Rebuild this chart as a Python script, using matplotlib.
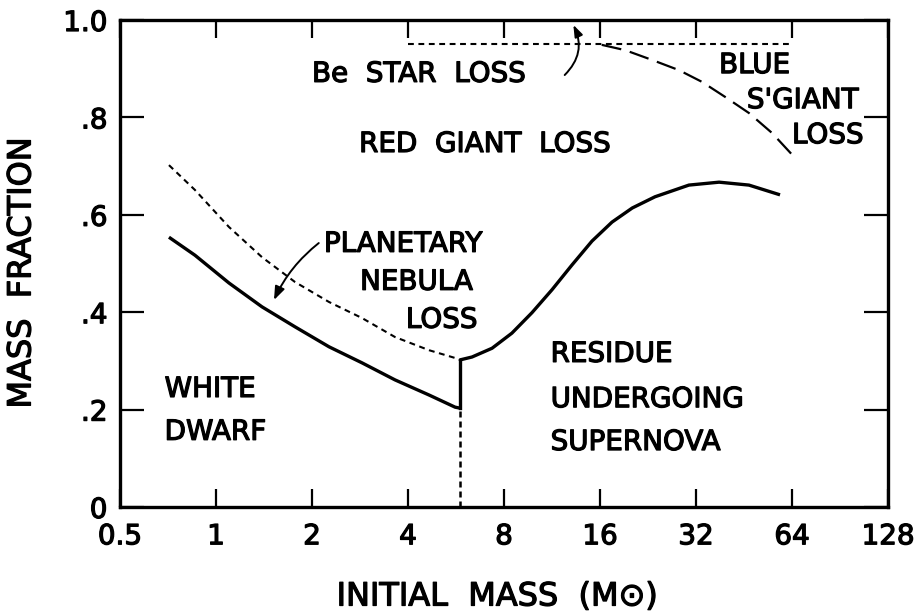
import numpy as np
import matplotlib
matplotlib.use("Agg")
import matplotlib.pyplot as plt
import matplotlib.patheffects as pe
from matplotlib.patches import FancyArrowPatch

plt.rcParams['font.family'] = ['DejaVu Sans']

# white dwarf / planetary nebula boundary (solid, lower)
wd_x = [0.712, 0.859, 1.098, 1.394, 1.769, 2.261, 2.870, 3.642, 4.655, 5.62, 5.82]
wd_y = [0.554, 0.517, 0.460, 0.411, 0.370, 0.329, 0.296, 0.261, 0.230, 0.205, 0.203]

# planetary nebula / red giant boundary (dotted)
pn_x = [0.712, 0.859, 1.098, 1.394, 1.769, 2.261, 2.870, 3.642, 4.655, 5.62, 5.82]
pn_y = [0.702, 0.651, 0.575, 0.513, 0.462, 0.421, 0.388, 0.349, 0.322, 0.306, 0.302]

# supernova residue boundary (solid, upper right)
sn_x = [5.82, 6.35, 7.34, 8.47, 9.79, 11.31, 13.07, 15.1, 17.45, 20.2, 23.8,
        30.4, 37.8, 46.9, 58.7]
sn_y = [0.302, 0.308, 0.326, 0.357, 0.399, 0.446, 0.497, 0.546, 0.585, 0.614,
        0.637, 0.661, 0.667, 0.661, 0.641]

# blue supergiant loss boundary (long dash)
bs_x = [16.2, 19.2, 23.3, 28.3, 33.4, 39.5, 46.9, 55.4, 65.4]
bs_y = [0.949, 0.938, 0.918, 0.897, 0.873, 0.842, 0.809, 0.768, 0.717]

# Be star loss line and white dwarf limit
be_x = [4, 64]
be_y = [0.95, 0.95]
limit_mass = 5.82
limit_y = [0.0, 0.203, 0.302]

x_ticks = [0.5, 1, 2, 4, 8, 16, 32, 64, 128]
x_labels = ['0.5', '1', '2', '4', '8', '16', '32', '64', '128']
y_ticks = [0, 0.2, 0.4, 0.6, 0.8, 1.0]
y_labels = ['0', '.2', '.4', '.6', '.8', '1.0']

fig = plt.figure(figsize=(9.18, 6.13), dpi=100)
ax = fig.add_axes([120 / 918, 106 / 613, 768 / 918, 487 / 613])

ax.plot(wd_x, wd_y, color='black', lw=2.4, solid_capstyle='butt')
ax.plot(sn_x, sn_y, color='black', lw=2.4, solid_capstyle='butt')
ax.plot([limit_mass, limit_mass], limit_y[1:], color='black', lw=2.4)
ax.plot([limit_mass, limit_mass], limit_y[:2], color='black', lw=1.8,
        dashes=(2.4, 1.6))
ax.plot(pn_x, pn_y, color='black', lw=1.5, dashes=(2.8, 2.2))
ax.plot(be_x, be_y, color='black', lw=1.5, dashes=(2.8, 2.2))
ax.plot(bs_x, bs_y, color='black', lw=1.6, dashes=(9, 4))

ax.set_xscale('log', base=2)
ax.set_xlim(0.5, 128)
ax.set_ylim(0, 1.0)
ax.set_xticks(x_ticks)
ax.set_xticklabels(x_labels)
ax.set_yticks(y_ticks)
ax.set_yticklabels(y_labels)
ax.minorticks_off()

for s in ax.spines.values():
    s.set_linewidth(2.4)

ax.tick_params(axis='x', which='major', direction='in', top=True, length=13,
               width=1.6, pad=11, labelsize=20)
ax.tick_params(axis='y', which='major', direction='in', right=True, length=17,
               width=1.6, pad=9, labelsize=20)

thick = [pe.withStroke(linewidth=0.9, foreground='black')]
for lab in ax.get_xticklabels() + ax.get_yticklabels():
    lab.set_path_effects(thick)

labels = [
    ('Be  STAR  LOSS', 2.0, 0.873),
    ('RED  GIANT  LOSS', 2.81, 0.729),
    ('BLUE', 37.8, 0.891),
    ("S'GIANT", 46.2, 0.819),
    ('LOSS', 64, 0.747),
    ('PLANETARY', 2.18, 0.524),
    ('NEBULA', 2.83, 0.446),
    ('LOSS', 3.94, 0.368),
    ('WHITE', 0.69, 0.226),
    ('DWARF', 0.69, 0.138),
    ('RESIDUE', 11.2, 0.298),
    ('UNDERGOING', 11.2, 0.205),
    ('SUPERNOVA', 11.2, 0.117),
]
for txt, lx, ly in labels:
    ax.text(lx, ly, txt, fontsize=20, ha='left', va='baseline',
            path_effects=thick)

# arrows
ax.add_patch(FancyArrowPatch((2.1, 0.542), (1.52, 0.425),
                             connectionstyle='arc3,rad=0.12',
                             arrowstyle='-|>,head_length=8,head_width=3',
                             color='black', lw=1.4, shrinkA=0, shrinkB=0))
ax.add_patch(FancyArrowPatch((12.4, 0.887), (13.2, 0.99),
                             connectionstyle='arc3,rad=0.35',
                             arrowstyle='-|>,head_length=7,head_width=2.5',
                             color='black', lw=1.4, shrinkA=0, shrinkB=0))

fig.text(22 / 918, 1 - 273 / 613, 'MASS  FRACTION', rotation=90, fontsize=23,
         ha='center', va='center', path_effects=thick)
fig.text(497 / 918, 1 - 597 / 613, 'INITIAL  MASS  (M\u2299)', fontsize=23,
         ha='center', va='center', path_effects=thick)

fig.savefig('out.png', dpi=100)
